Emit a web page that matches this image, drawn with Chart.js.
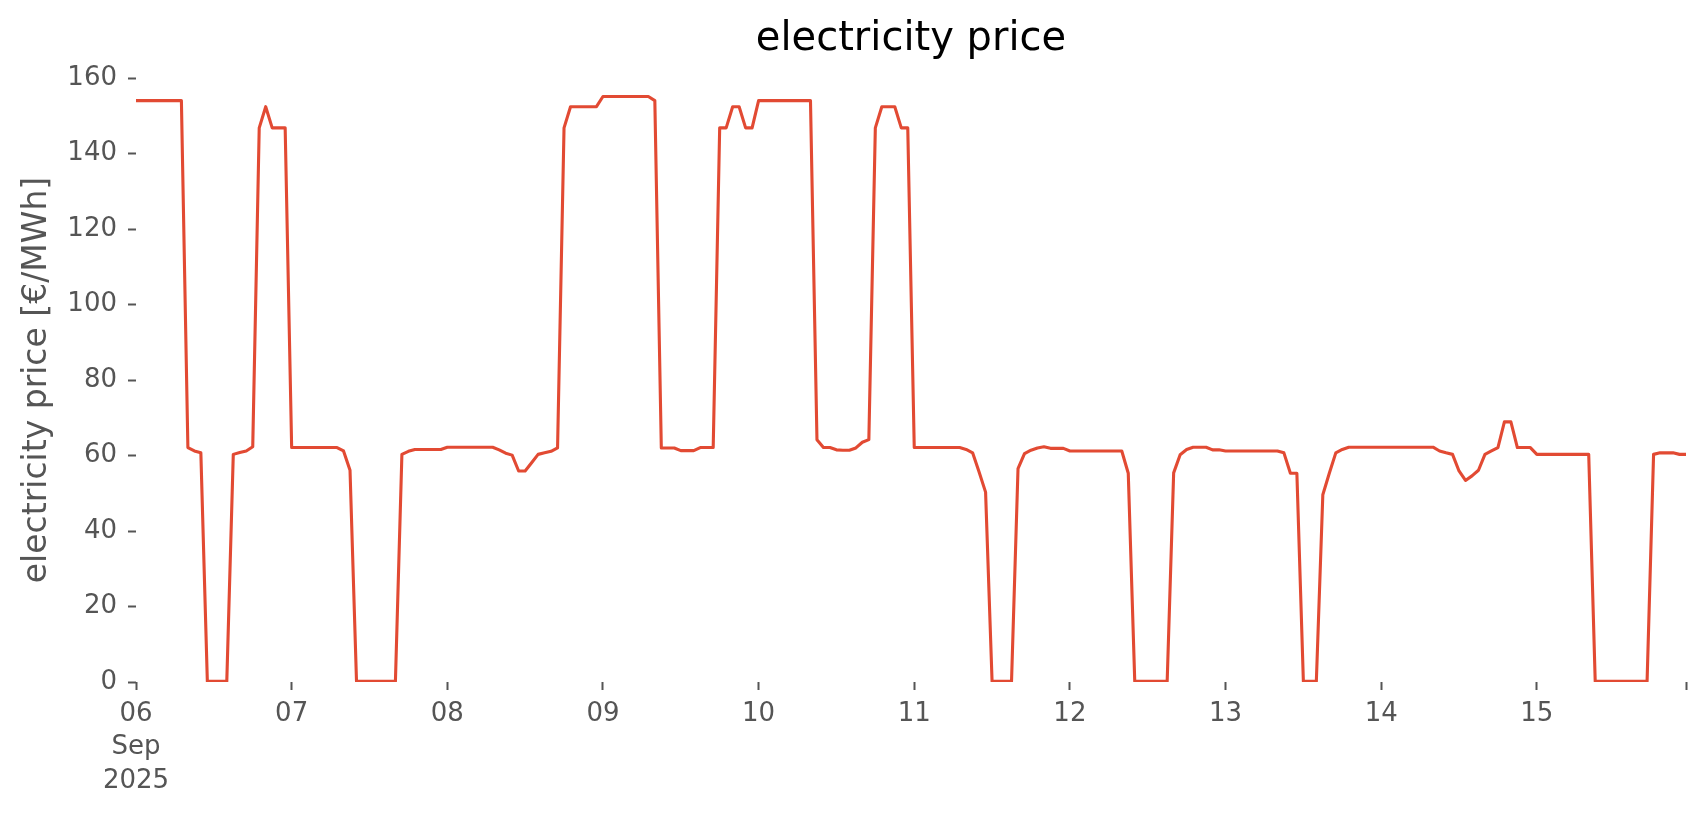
<!DOCTYPE html>
<html>
<head>
<meta charset="utf-8">
<script src="https://cdn.jsdelivr.net/npm/chart.js@4/dist/chart.umd.min.js"></script>
<style>
  html, body { margin: 0; padding: 0; background: #ffffff; }
  canvas { display: block; }
</style>
</head>
<body>
<canvas id="chart" width="1706" height="815"></canvas>
<script>
// ---- data (hourly electricity price, €/MWh) ----
const dayLabels = ['06', '07', '08', '09', '10', '11', '12', '13', '14', '15'];
const monthLabel = 'Sep';
const yearLabel = '2025';
const yTickValues = [0, 20, 40, 60, 80, 100, 120, 140, 160];

const sep06 = [154.0, 154.0, 154.0, 154.0, 154.0, 154.0, 154.0, 154.0, 62.1, 61.2, 60.7, 0.2, 0.2, 0.2, 0.2, 60.3, 60.8, 61.2, 62.3, 146.8, 152.4, 146.8, 146.8, 146.8];
const sep07 = [62.1, 62.1, 62.1, 62.1, 62.1, 62.1, 62.1, 62.1, 61.2, 56.1, 0.2, 0.2, 0.2, 0.2, 0.2, 0.2, 0.2, 60.3, 61.1, 61.6, 61.6, 61.6, 61.6, 61.6];
const sep08 = [62.2, 62.2, 62.2, 62.2, 62.2, 62.2, 62.2, 62.2, 61.5, 60.6, 60.1, 55.9, 55.9, 58.1, 60.3, 60.7, 61.1, 62.0, 146.8, 152.4, 152.4, 152.4, 152.4, 152.4];
const sep09 = [155.1, 155.1, 155.1, 155.1, 155.1, 155.1, 155.1, 155.1, 154.0, 62.0, 62.0, 62.0, 61.3, 61.3, 61.3, 62.1, 62.1, 62.1, 146.8, 146.8, 152.4, 152.4, 146.8, 146.8];
const sep10 = [154.0, 154.0, 154.0, 154.0, 154.0, 154.0, 154.0, 154.0, 154.0, 64.2, 62.1, 62.1, 61.5, 61.4, 61.4, 62.0, 63.5, 64.2, 146.8, 152.4, 152.4, 152.4, 146.8, 146.8];
const sep11 = [62.1, 62.1, 62.1, 62.1, 62.1, 62.1, 62.1, 62.1, 61.6, 60.7, 55.6, 50.3, 0.2, 0.2, 0.2, 0.2, 56.5, 60.5, 61.4, 62.0, 62.3, 61.9, 61.9, 61.9];
const sep12 = [61.2, 61.2, 61.2, 61.2, 61.2, 61.2, 61.2, 61.2, 61.2, 55.3, 0.2, 0.2, 0.2, 0.2, 0.2, 0.2, 55.4, 60.2, 61.6, 62.2, 62.2, 62.2, 61.5, 61.5];
const sep13 = [61.2, 61.2, 61.2, 61.2, 61.2, 61.2, 61.2, 61.2, 61.2, 60.7, 55.3, 55.3, 0.2, 0.2, 0.2, 49.6, 55.3, 60.7, 61.6, 62.2, 62.2, 62.2, 62.2, 62.2];
const sep14 = [62.2, 62.2, 62.2, 62.2, 62.2, 62.2, 62.2, 62.2, 62.2, 61.2, 60.7, 60.3, 55.9, 53.4, 54.6, 56.1, 60.3, 61.2, 62.1, 68.9, 68.9, 62.1, 62.1, 62.1];
const sep15 = [60.3, 60.3, 60.3, 60.3, 60.3, 60.3, 60.3, 60.3, 60.3, 0.2, 0.2, 0.2, 0.2, 0.2, 0.2, 0.2, 0.2, 0.2, 60.3, 60.7, 60.7, 60.7, 60.3, 60.3];

const hoursPerDay = 24;
const prices = [].concat(sep06, sep07, sep08, sep09, sep10, sep11, sep12, sep13, sep14, sep15);
const points = prices.map((v, i) => ({ x: i, y: v }));

// ---- chart ----
const FONT = "'DejaVu Sans', 'Liberation Sans', sans-serif";
const tickGrey = '#555555';

new Chart(document.getElementById('chart'), {
  type: 'line',
  data: {
    datasets: [{
      label: 'electricity price',
      data: points,
      borderColor: '#E24A33',
      borderWidth: 3.1,
      borderJoinStyle: 'round',
      pointRadius: 0,
      tension: 0,
      fill: false
    }]
  },
  options: {
    responsive: false,
    animation: false,
    devicePixelRatio: 1,
    layout: { padding: { left: 0, right: 20, top: 0, bottom: 0 } },
    plugins: {
      legend: { display: false },
      tooltip: { enabled: false },
      title: {
        display: true,
        fullSize: false,
        text: 'electricity price',
        color: '#000000',
        font: { family: FONT, size: 40, weight: 'normal', lineHeight: 1.0 },
        padding: { top: 20, bottom: 18 }
      }
    },
    scales: {
      x: {
        type: 'linear',
        min: 0,
        max: prices.length - 1,
        border: { display: false },
        grid: {
          display: true,
          drawOnChartArea: false,
          drawTicks: true,
          tickLength: 8,
          tickWidth: 2,
          tickColor: tickGrey
        },
        afterBuildTicks: (scale) => {
          const t = dayLabels.map((d, i) => ({ value: i * hoursPerDay }));
          t.push({ value: prices.length - 1 });
          scale.ticks = t;
        },
        afterFit: (scale) => { scale.height = 815 - 682; },
        ticks: {
          autoSkip: false,
          maxRotation: 0,
          minRotation: 0,
          padding: 7,
          color: tickGrey,
          font: { family: FONT, size: 26, lineHeight: 1.3 },
          callback: (value) => {
            const d = value / hoursPerDay;
            if (Number.isInteger(d) && d < dayLabels.length) {
              return d === 0 ? [dayLabels[0], monthLabel, yearLabel] : dayLabels[d];
            }
            return '';
          }
        }
      },
      y: {
        min: 0,
        max: 160,
        border: { display: false },
        grid: {
          display: true,
          drawOnChartArea: false,
          drawTicks: true,
          tickLength: 8,
          tickWidth: 2,
          tickColor: tickGrey
        },
        afterBuildTicks: (scale) => {
          scale.ticks = yTickValues.map(v => ({ value: v }));
        },
        afterFit: (scale) => { scale.width = 136; },
        ticks: {
          padding: 11,
          color: tickGrey,
          font: { family: FONT, size: 26 }
        },
        title: {
          display: true,
          text: 'electricity price [€/MWh]',
          color: tickGrey,
          font: { family: FONT, size: 33, lineHeight: 1.2 },
          padding: { top: 18, bottom: 0 }
        }
      }
    }
  }
});
</script>
</body>
</html>
